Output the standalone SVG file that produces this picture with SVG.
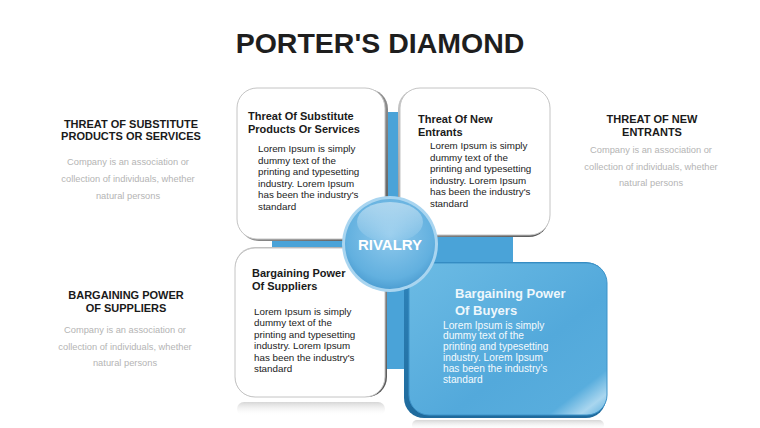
<svg xmlns="http://www.w3.org/2000/svg" width="760" height="428" viewBox="0 0 760 428">
<defs>
<style>
.ttl{font-family:"Liberation Sans",Arial,sans-serif;font-weight:bold;font-size:28.5px;fill:#1e1e1e;text-anchor:middle}
.side{font-family:"Liberation Sans",Arial,sans-serif;font-weight:bold;font-size:11px;fill:#1a1a1a;text-anchor:middle}
.gray{font-family:"Liberation Sans",Arial,sans-serif;font-size:9.3px;fill:#b4b4b4;text-anchor:middle}
.bh{font-family:"Liberation Sans",Arial,sans-serif;font-weight:bold;font-size:11px;fill:#1a1a1a}
.bt{font-family:"Liberation Sans",Arial,sans-serif;font-size:9.8px;fill:#222}
.wh{font-family:"Liberation Sans",Arial,sans-serif;font-weight:bold;font-size:13px;fill:#eef7fc}
.wt{font-family:"Liberation Sans",Arial,sans-serif;font-size:10.2px;fill:#f4fafd}
.face{fill:#ffffff;stroke:#c4c4c4;stroke-width:1}
.edge{fill:url(#edgeG)}
</style>
<linearGradient id="edgeG" x1="0" y1="0" x2="1" y2="1">
<stop offset="0" stop-color="#c8c8c8"/>
<stop offset="1" stop-color="#555555"/>
</linearGradient>
<linearGradient id="blueFace" x1="0" y1="0" x2="1" y2="1">
<stop offset="0" stop-color="#6cbbe4"/>
<stop offset="0.6" stop-color="#53a9db"/>
<stop offset="0.85" stop-color="#58addd"/>
<stop offset="0.93" stop-color="#a9d6ef"/>
<stop offset="1" stop-color="#5aaede"/>
</linearGradient>
<linearGradient id="blueRim" x1="0" y1="0" x2="0" y2="1">
<stop offset="0" stop-color="#2f86bd"/>
<stop offset="1" stop-color="#1f6a9c"/>
</linearGradient>
<linearGradient id="refl" x1="0" y1="0" x2="0" y2="1">
<stop offset="0" stop-color="#d6d6d6"/>
<stop offset="1" stop-color="#ffffff" stop-opacity="0"/>
</linearGradient>
<radialGradient id="ballG" cx="0.5" cy="0.4" r="0.65">
<stop offset="0" stop-color="#8fc9ec"/>
<stop offset="0.75" stop-color="#62b0df"/>
<stop offset="1" stop-color="#4597cd"/>
</radialGradient>
<linearGradient id="hiG" x1="0" y1="0" x2="0" y2="1">
<stop offset="0" stop-color="#ffffff" stop-opacity="0.45"/>
<stop offset="1" stop-color="#ffffff" stop-opacity="0.05"/>
</linearGradient>
</defs>
<rect width="760" height="428" fill="#ffffff"/>
<text class="ttl" x="380" y="53">PORTER'S DIAMOND</text>

<g id="backdrop">
<rect x="272" y="112" width="241" height="257" fill="#4aa3d8"/>
</g>
<g id="connectors"/>

<g id="side-substitutes">
<text class="side" x="131" y="128">THREAT OF SUBSTITUTE</text>
<text class="side" x="131" y="140">PRODUCTS OR SERVICES</text>
<text class="gray" x="128" y="165">Company is an association or</text>
<text class="gray" x="128" y="182">collection of individuals, whether</text>
<text class="gray" x="128" y="199">natural persons</text>
</g>
<g id="side-new-entrants">
<text class="side" x="652" y="123">THREAT OF NEW</text>
<text class="side" x="652" y="136">ENTRANTS</text>
<text class="gray" x="651" y="153">Company is an association or</text>
<text class="gray" x="651" y="170">collection of individuals, whether</text>
<text class="gray" x="651" y="186">natural persons</text>
</g>
<g id="side-suppliers">
<text class="side" x="126" y="299">BARGAINING POWER</text>
<text class="side" x="126" y="312">OF SUPPLIERS</text>
<text class="gray" x="125" y="333">Company is an association or</text>
<text class="gray" x="125" y="350">collection of individuals, whether</text>
<text class="gray" x="125" y="366">natural persons</text>
</g>

<g id="box-substitutes">
<rect class="edge" x="239" y="89" width="149" height="152" rx="20"/>
<rect class="face" x="237" y="88" width="148" height="151" rx="20"/>
<text class="bh" x="248" y="119.5">Threat Of Substitute</text>
<text class="bh" x="248" y="133">Products Or Services</text>
<text class="bt" x="258" y="152">Lorem Ipsum is simply</text>
<text class="bt" x="258" y="163.6">dummy text of the</text>
<text class="bt" x="258" y="175.2">printing and typesetting</text>
<text class="bt" x="258" y="186.8">industry. Lorem Ipsum</text>
<text class="bt" x="258" y="198.4">has been the industry's</text>
<text class="bt" x="258" y="210">standard</text>
</g>

<g id="box-new-entrants">
<rect class="edge" x="398" y="89" width="151" height="148" rx="20"/>
<rect class="face" x="400" y="88" width="150" height="147" rx="20"/>
<text class="bh" x="418" y="123">Threat Of New</text>
<text class="bh" x="418" y="136">Entrants</text>
<text class="bt" x="430" y="149">Lorem Ipsum is simply</text>
<text class="bt" x="430" y="160.6">dummy text of the</text>
<text class="bt" x="430" y="172.2">printing and typesetting</text>
<text class="bt" x="430" y="183.8">industry. Lorem Ipsum</text>
<text class="bt" x="430" y="195.4">has been the industry's</text>
<text class="bt" x="430" y="207">standard</text>
</g>

<g id="box-suppliers">
<rect x="237" y="402" width="148" height="14" rx="7" fill="url(#refl)"/>
<rect class="edge" x="235" y="247" width="152" height="150" rx="20"/>
<rect class="face" x="235" y="248" width="150" height="149" rx="20"/>
<text class="bh" x="252" y="277">Bargaining Power</text>
<text class="bh" x="252" y="290">Of Suppliers</text>
<text class="bt" x="254" y="314.5">Lorem Ipsum is simply</text>
<text class="bt" x="254" y="326">dummy text of the</text>
<text class="bt" x="254" y="337.5">printing and typesetting</text>
<text class="bt" x="254" y="349">industry. Lorem Ipsum</text>
<text class="bt" x="254" y="360.5">has been the industry's</text>
<text class="bt" x="254" y="372">standard</text>
</g>

<g id="box-buyers">
<rect x="412" y="420" width="192" height="10" rx="5" fill="url(#refl)"/>
<rect x="404" y="262" width="202" height="156" rx="20" fill="url(#blueRim)"/>
<rect x="409" y="263" width="198" height="152" rx="20" fill="url(#blueFace)" stroke="#3d93c9" stroke-width="1"/>
<text class="wh" x="455" y="297.5">Bargaining Power</text>
<text class="wh" x="455" y="314.5">Of Buyers</text>
<text class="wt" x="443" y="328.5">Lorem Ipsum is simply</text>
<text class="wt" x="443" y="339.4">dummy text of the</text>
<text class="wt" x="443" y="350.3">printing and typesetting</text>
<text class="wt" x="443" y="361.2">industry. Lorem Ipsum</text>
<text class="wt" x="443" y="372.1">has been the industry's</text>
<text class="wt" x="443" y="383">standard</text>
</g>

<g id="rivalry">
<circle cx="390" cy="244" r="48" fill="#a9d5f0"/>
<circle cx="390" cy="244" r="45" fill="url(#ballG)"/>
<ellipse cx="390" cy="222" rx="33" ry="20" fill="url(#hiG)"/>
<text x="390" y="250" font-family="'Liberation Sans',Arial,sans-serif" font-weight="bold" font-size="15px" fill="#ffffff" text-anchor="middle">RIVALRY</text>
</g>
</svg>
